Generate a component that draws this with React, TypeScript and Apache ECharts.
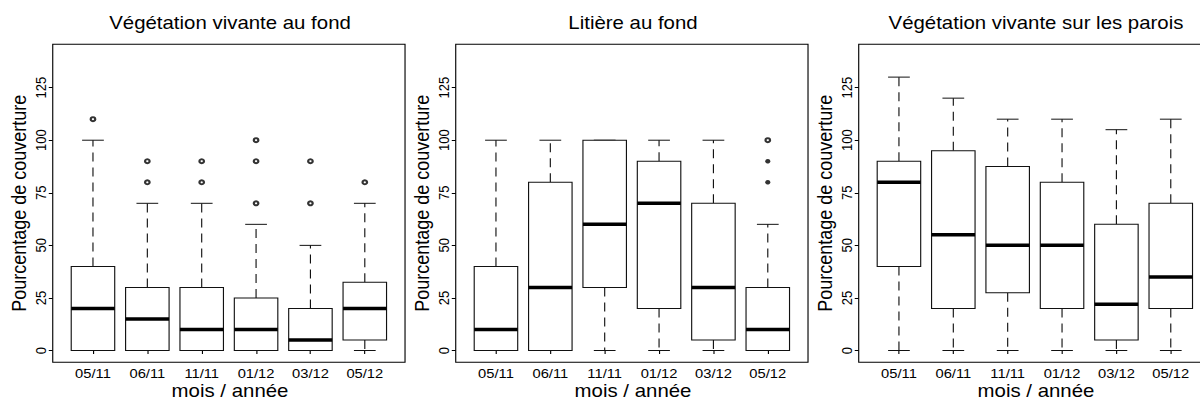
import React, { useEffect, useRef } from "react";
import * as echarts from "echarts";

// ---------- data ----------
const CATEGORIES = ["05/11", "06/11", "11/11", "01/12", "03/12", "05/12"];
const Y_TICKS = [0, 25, 50, 75, 100, 125];
const PANEL_TITLES = [
  "Végétation vivante au fond",
  "Litière au fond",
  "Végétation vivante sur les parois",
];
const Y_TITLE = "Pourcentage de couverture";
const X_TITLE = "mois / année";

// panel 1 : Végétation vivante au fond
const P1_LOW = [0, 0, 0, 0, 0, 0];
const P1_Q1 = [0, 0, 0, 0, 0, 5];
const P1_MED = [20, 15, 10, 10, 5, 20];
const P1_Q3 = [40, 30, 30, 25, 20, 32.5];
const P1_HIGH = [100, 70, 70, 60, 50, 70];
// [category index, value, count]
const P1_OUT = [
  [0, 110, 1],
  [1, 80, 1], [1, 90, 1],
  [2, 80, 1], [2, 90, 1],
  [3, 70, 1], [3, 90, 1], [3, 100, 1],
  [4, 70, 1], [4, 90, 1],
  [5, 80, 1],
];

// panel 2 : Litière au fond
const P2_LOW = [0, 0, 0, 0, 0, 0];
const P2_Q1 = [0, 0, 30, 20, 5, 0];
const P2_MED = [10, 30, 60, 70, 30, 10];
const P2_Q3 = [40, 80, 100, 90, 70, 30];
const P2_HIGH = [100, 100, 100, 100, 100, 60];
const P2_OUT = [
  [5, 80, 2], [5, 90, 2], [5, 100, 1],
];

// panel 3 : Végétation vivante sur les parois
const P3_LOW = [0, 0, 0, 0, 0, 0];
const P3_Q1 = [40, 20, 27.5, 20, 5, 20];
const P3_MED = [80, 55, 50, 50, 22, 35];
const P3_Q3 = [90, 95, 87.5, 80, 60, 70];
const P3_HIGH = [130, 120, 110, 110, 105, 110];
const P3_OUT: number[][] = [];

const PANELS = [
  { low: P1_LOW, q1: P1_Q1, med: P1_MED, q3: P1_Q3, high: P1_HIGH, out: P1_OUT },
  { low: P2_LOW, q1: P2_Q1, med: P2_MED, q3: P2_Q3, high: P2_HIGH, out: P2_OUT },
  { low: P3_LOW, q1: P3_Q1, med: P3_MED, q3: P3_Q3, high: P3_HIGH, out: P3_OUT },
];

// ---------- layout (chart space; whole chart stretched horizontally) ----------
const CHART_W = 1058;
const CHART_H = 401;
const STRETCH = 1200 / CHART_W;
const FRAME_LEFT = [46.5, 401.8, 757.1];
const FRAME_W = 310.6;
const FRAME_TOP = 44.3;
const FRAME_H = 318;
const PAD = (FRAME_W * 0.24) / 6.48;
const GRID_W = (FRAME_W * 6) / 6.48;
const Y_MIN = -5.6;
const Y_MAX = 145.6;
const FONT = "'Liberation Sans', Arial, Helvetica, sans-serif";

function renderBox(params: any, api: any) {
  const x = api.value(0);
  const lo = api.value(1);
  const q1 = api.value(2);
  const med = api.value(3);
  const q3 = api.value(4);
  const hi = api.value(5);
  const band = api.size([1, 0])[0];
  const bw = band * 0.8;
  const cw = bw * 0.5;
  const pLo = api.coord([x, lo]);
  const pQ1 = api.coord([x, q1]);
  const pMed = api.coord([x, med]);
  const pQ3 = api.coord([x, q3]);
  const pHi = api.coord([x, hi]);
  const cx = pMed[0];
  const line = "#111";
  const dashStyle = { stroke: line, lineWidth: 1, lineDash: [9, 6] };
  return {
    type: "group",
    children: [
      { type: "line", shape: { x1: cx, y1: pQ3[1], x2: cx, y2: pHi[1] }, style: dashStyle },
      { type: "line", shape: { x1: cx, y1: pQ1[1], x2: cx, y2: pLo[1] }, style: dashStyle },
      { type: "line", shape: { x1: cx - cw / 2, y1: pHi[1], x2: cx + cw / 2, y2: pHi[1] }, style: { stroke: line, lineWidth: 1 } },
      { type: "line", shape: { x1: cx - cw / 2, y1: pLo[1], x2: cx + cw / 2, y2: pLo[1] }, style: { stroke: line, lineWidth: 1 } },
      {
        type: "rect",
        shape: { x: cx - bw / 2, y: pQ3[1], width: bw, height: pQ1[1] - pQ3[1] },
        style: { fill: "#fff", stroke: line, lineWidth: 1 },
      },
      { type: "line", shape: { x1: cx - bw / 2, y1: pMed[1], x2: cx + bw / 2, y2: pMed[1] }, style: { stroke: "#000", lineWidth: 3.5 } },
    ],
  };
}

export default function App() {
  const ref = useRef<HTMLDivElement>(null);
  useEffect(() => {
    document.body.style.margin = "0";
    document.body.style.overflow = "hidden";
    if (!ref.current) return;
    const chart = echarts.init(ref.current, undefined, { renderer: "svg" });

    const grids = FRAME_LEFT.map((fl) => ({
      left: fl + PAD,
      top: FRAME_TOP,
      width: GRID_W,
      height: FRAME_H,
    }));
    const xAxes = FRAME_LEFT.map((_, i) => ({
      type: "category",
      gridIndex: i,
      data: CATEGORIES,
      axisLine: { show: false },
      axisTick: { show: true, alignWithLabel: true, length: 3.5, lineStyle: { color: "#000", width: 1 } },
      axisLabel: { interval: 0, margin: 5, fontSize: 13, color: "#000", fontFamily: FONT },
      splitLine: { show: false },
    }));
    const yAxes = FRAME_LEFT.map((_, i) => ({
      type: "value",
      gridIndex: i,
      min: Y_MIN,
      max: Y_MAX,
      offset: PAD,
      axisLine: { show: false },
      axisTick: { show: true, length: 3.5, customValues: Y_TICKS, lineStyle: { color: "#000", width: 1 } },
      axisLabel: { customValues: Y_TICKS, rotate: 90, margin: 4, fontSize: 13, color: "#000", fontFamily: FONT },
      splitLine: { show: false },
    }));

    const series: any[] = [];
    PANELS.forEach((p, i) => {
      series.push({
        type: "custom",
        xAxisIndex: i,
        yAxisIndex: i,
        renderItem: renderBox,
        encode: { x: 0, y: [1, 2, 3, 4, 5] },
        data: CATEGORIES.map((_, k) => [k, p.low[k], p.q1[k], p.med[k], p.q3[k], p.high[k]]),
        silent: true,
      });
      series.push({
        type: "scatter",
        xAxisIndex: i,
        yAxisIndex: i,
        symbol: "emptyCircle",
        symbolSize: 4,
        itemStyle: { color: "#000", borderColor: "#000", borderWidth: 1.1 },
        data: p.out.filter((o) => o[2] === 1).map((o) => [o[0], o[1]]),
        silent: true,
        z: 5,
      });
      series.push({
        type: "scatter",
        xAxisIndex: i,
        yAxisIndex: i,
        symbol: "circle",
        symbolSize: 4.5,
        itemStyle: { color: "#000" },
        data: p.out.filter((o) => o[2] > 1).map((o) => [o[0], o[1]]),
        silent: true,
        z: 5,
      });
    });

    const graphics: any[] = [];
    FRAME_LEFT.forEach((fl, i) => {
      graphics.push({
        type: "rect",
        shape: { x: fl, y: FRAME_TOP, width: FRAME_W, height: FRAME_H },
        style: { fill: "none", stroke: "#000", lineWidth: 1 },
        silent: true,
        z: 10,
      });
      graphics.push({
        type: "text",
        x: fl + FRAME_W / 2 + 1,
        y: 23,
        style: { text: PANEL_TITLES[i], fontSize: 18, fontFamily: FONT, fill: "#000", align: "center", verticalAlign: "middle" },
      });
      graphics.push({
        type: "text",
        x: fl + FRAME_W / 2 + 1,
        y: 391,
        style: { text: X_TITLE, fontSize: 18, fontFamily: FONT, fill: "#000", align: "center", verticalAlign: "middle" },
      });
      graphics.push({
        type: "text",
        x: fl - 29.8,
        y: FRAME_TOP + FRAME_H / 2,
        rotation: Math.PI / 2,
        style: { text: Y_TITLE, fontSize: 18, fontFamily: FONT, fill: "#000", align: "center", verticalAlign: "middle" },
      });
    });

    chart.setOption({
      animation: false,
      backgroundColor: "#fff",
      grid: grids,
      xAxis: xAxes,
      yAxis: yAxes,
      series,
      graphic: graphics,
    });
    return () => chart.dispose();
  }, []);

  return (
    <div style={{ width: 1200, height: CHART_H, overflow: "hidden", background: "#fff" }}>
      <div
        ref={ref}
        style={{
          width: CHART_W,
          height: CHART_H,
          transform: `scaleX(${STRETCH})`,
          transformOrigin: "0 0",
        }}
      />
    </div>
  );
}
